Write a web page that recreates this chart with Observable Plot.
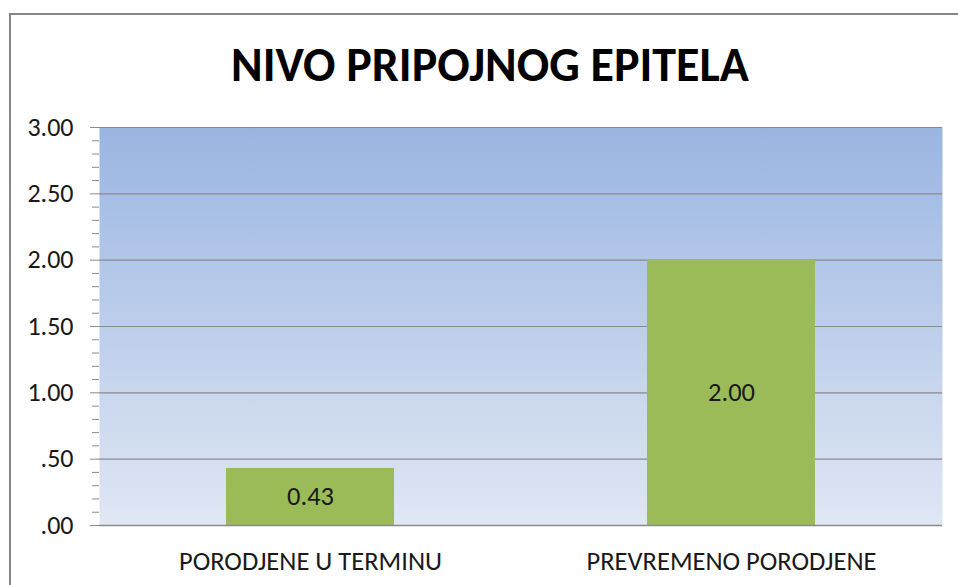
<!DOCTYPE html>
<html>
<head>
<meta charset="utf-8">
<script src="https://cdn.jsdelivr.net/npm/d3@7"></script>
<script src="https://cdn.jsdelivr.net/npm/@observablehq/plot@0.6"></script>
<style>
  html, body { margin: 0; padding: 0; background: #fff; }
  #wrap { position: relative; width: 958px; height: 585px; overflow: hidden; font-family: Carlito, Lato, "Open Sans", sans-serif; }
  #border { position: absolute; left: 9px; top: 13px; width: 2000px; height: 2000px; border-left: 2px solid #878787; border-top: 2px solid #878787; box-sizing: border-box; }
  #title { position: absolute; left: 0; top: 41px; width: 980px; text-align: center; font-size: 48px; font-weight: bold; color: #000; margin: 0; line-height: 1; }
  #chart { position: absolute; left: 0; top: 0; }
</style>
</head>
<body>
<div id="wrap">
  <div id="border"></div>
  <div id="chart"></div>
  <h1 id="title">NIVO PRIPOJNOG EPITELA</h1>
</div>
<script>
const categories = ["PORODJENE U TERMINU", "PREVREMENO PORODJENE"];
const values = [0.43, 2.00];
const valueLabels = ["0.43", "2.00"];
const yTicks = [0, 0.5, 1, 1.5, 2, 2.5, 3];
const yTickLabels = [".00", ".50", "1.00", "1.50", "2.00", "2.50", "3.00"];
const yMinorTicks = [0.1,0.2,0.3,0.4,0.6,0.7,0.8,0.9,1.1,1.2,1.3,1.4,1.6,1.7,1.8,1.9,2.1,2.2,2.3,2.4,2.6,2.7,2.8,2.9];

const data = categories.map((c, i) => ({cat: c, value: values[i], label: valueLabels[i]}));
const fontFam = "Carlito, Lato, 'Open Sans', sans-serif";

const chart = Plot.plot({
  width: 958,
  height: 585,
  marginTop: 127,
  marginLeft: 99,
  marginRight: 16,
  marginBottom: 60,
  style: {fontFamily: fontFam, background: "transparent", overflow: "visible"},
  x: {domain: categories, paddingInner: 0.6, paddingOuter: 0.3},
  y: {domain: [0, 3]},
  marks: [
    Plot.frame({fill: "url(#bgGrad)", stroke: null}),
    Plot.gridY(yTicks, {stroke: "#8a8a8a", strokeOpacity: 1, strokeWidth: 1.2}),
    Plot.barY(data, {x: "cat", y: "value", fill: "#9bbb59"}),
    Plot.text(data, {x: "cat", y: d => d.value / 2, text: "label", fontSize: 26.5, fill: "#1a1a1a"}),
    Plot.axisY(yMinorTicks, {tickSize: 7, tickFormat: null, text: null, stroke: "#8a8a8a", label: null}),
    Plot.axisY(yTicks, {tickSize: 9, tickPadding: 17, tickFormat: (d) => yTickLabels[yTicks.indexOf(d)], fontSize: 26, fill: "#1a1a1a", stroke: "#8a8a8a", label: null}),
    Plot.ruleX([0], {frameAnchor: "left", stroke: "#8a8a8a", strokeWidth: 1.5}),
    Plot.ruleY([0], {stroke: "#8a8a8a", strokeWidth: 1.5}),
    Plot.axisX({tickSize: 0, tickPadding: 26, fontSize: 26.5, fill: "#1a1a1a", label: null})
  ]
});

d3.select(chart).insert("defs", ":first-child").html(
  '<linearGradient id="bgGrad" x1="0" y1="0" x2="0" y2="1">' +
  '<stop offset="0" stop-color="#9ab5e2"/>' +
  '<stop offset="1" stop-color="#e0e7f4"/>' +
  '</linearGradient>'
);
document.getElementById("chart").appendChild(chart);
</script>
</body>
</html>
